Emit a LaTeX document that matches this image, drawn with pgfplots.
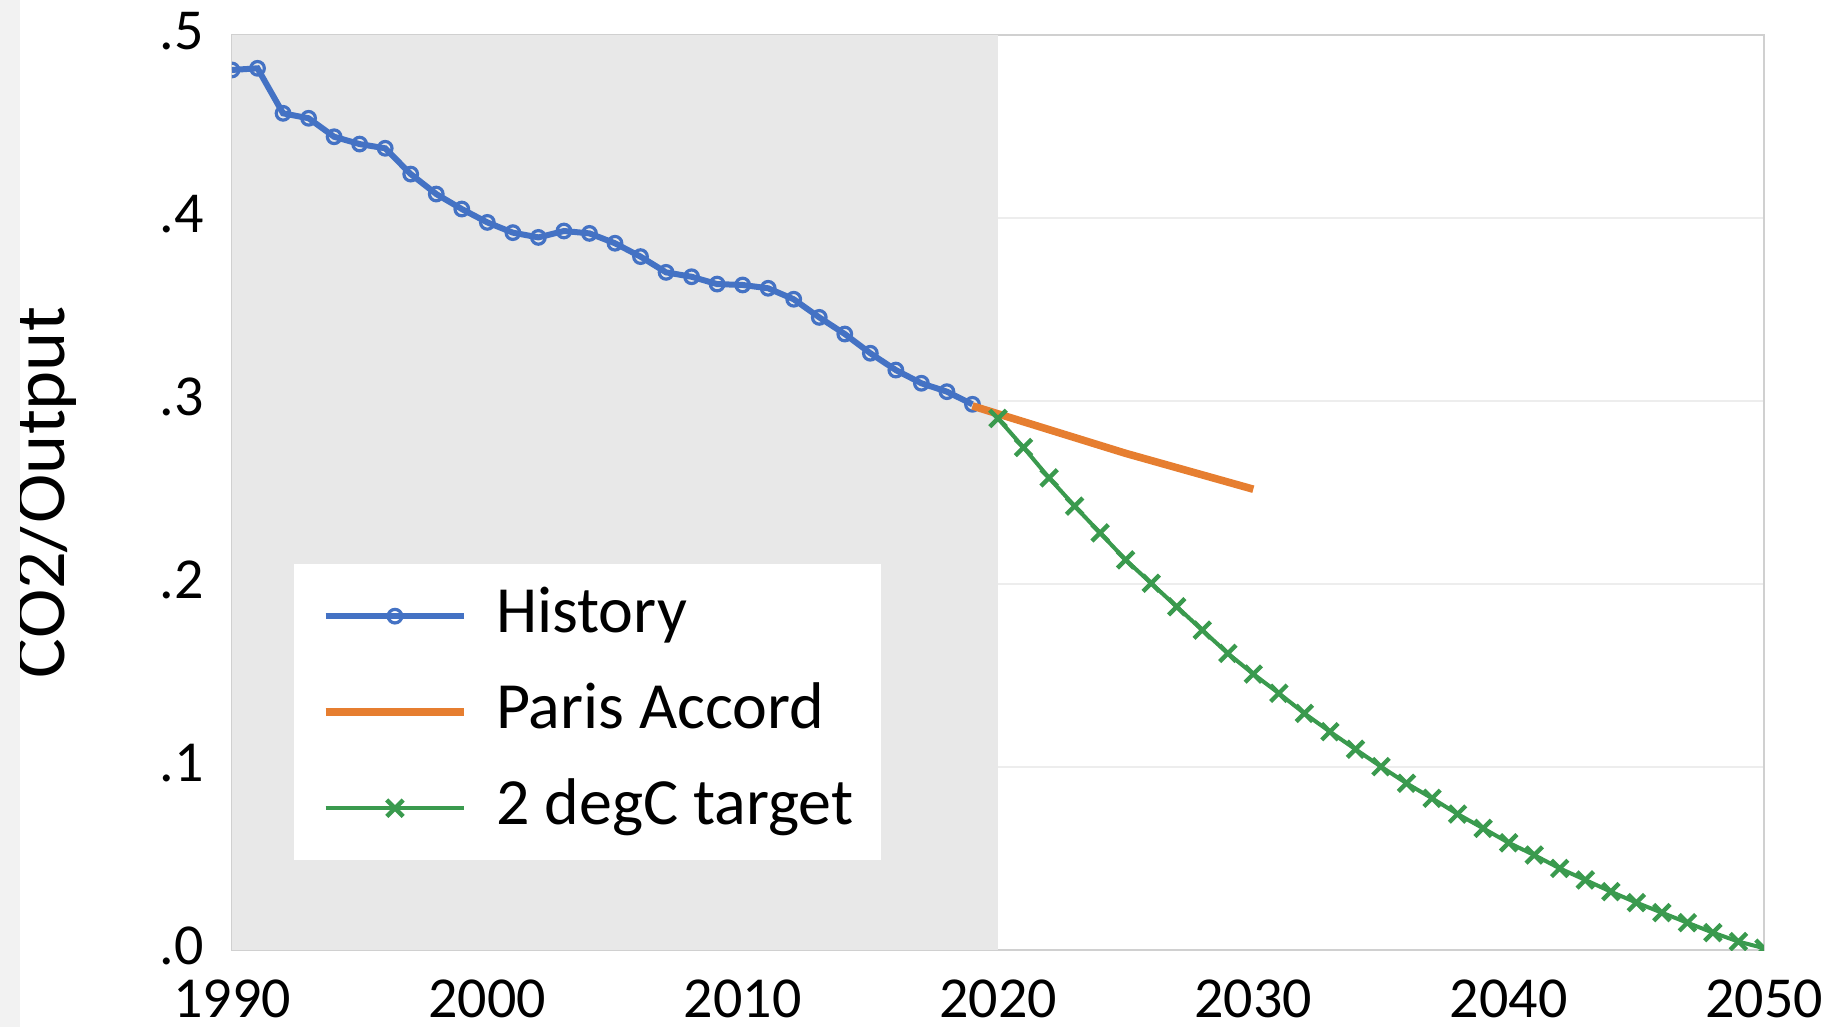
\documentclass[border=0pt]{standalone}
\usepackage{fontspec}
\setmainfont{Carlito}
\usepackage{pgfplots}
\pgfplotsset{compat=1.18}
\definecolor{histblue}{HTML}{4472C4}
\definecolor{parisorange}{HTML}{E67E30}
\definecolor{greenT}{HTML}{3A9A4E}
\definecolor{shadec}{HTML}{E8E8E8}
\definecolor{gridc}{HTML}{EDEDED}
\definecolor{framec}{HTML}{D0D0D0}
\definecolor{stripc}{HTML}{F2F2F2}
\begin{document}
\begin{tikzpicture}
\begin{axis}[
  scale only axis, width=383pt, height=228.75pt,
  at={(0,0)}, anchor=south west,
  xmin=1990, xmax=2050, ymin=0, ymax=0.5,
  xtick={1990,2000,2010,2020,2030,2040,2050},
  xticklabels={1990,2000,2010,2020,2030,2040,2050},
  ytick={0,0.1,0.2,0.3,0.4,0.5},
  yticklabels={.0,.1,.2,.3,.4,.5},
  major tick length=0pt,
  axis line style={framec, line width=0.6pt},
  ymajorgrids, grid style={gridc, line width=0.6pt},
  tick label style={font=\fontsize{14.5}{16}\selectfont, inner sep=1pt},
  /pgf/number format/assume math mode=true,
  xticklabel style={inner sep=0pt, yshift=-7.3pt},
  yticklabel style={xshift=-5.8pt, yshift=1pt},
  ylabel={CO2/Output},
  ylabel style={font=\fontsize{18.6}{20}\selectfont, at={(axis description cs:-0.1224,0.5)}, anchor=center},
  clip marker paths=true,
  legend cell align=left,
  legend image code/.code={\draw[mark repeat=2,mark phase=2,#1] plot coordinates {(0pt,0pt) (17.35pt,0pt) (34.7pt,0pt)};},
  legend style={at={(axis description cs:0.0398,0.0973)}, anchor=south west,
    fill=white, draw=none, font=\fontsize{16.5}{18}\selectfont,
    inner xsep=7pt, inner ysep=5pt, row sep=8pt, column sep=7pt,
    nodes={inner sep=0pt, text height=12pt, text depth=4pt}},
]
\addplot[draw=none, fill=shadec, forget plot] coordinates {(1990,0.5) (2020,0.5)} \closedcycle;

\addplot[histblue, line width=1.5pt, mark=o, mark size=1.7pt,
  mark options={fill=white, line width=0.8pt, solid}] coordinates {
(1990,0.4809) (1991,0.4818) (1992,0.4572) (1993,0.4545) (1994,0.4444)
(1995,0.4404) (1996,0.4381) (1997,0.4240) (1998,0.4131) (1999,0.4049)
(2000,0.3976) (2001,0.3920) (2002,0.3894) (2003,0.3929) (2004,0.3916)
(2005,0.3862) (2006,0.3789) (2007,0.3703) (2008,0.3679) (2009,0.3639)
(2010,0.3634) (2011,0.3616) (2012,0.3556) (2013,0.3457) (2014,0.3366)
(2015,0.3261) (2016,0.3169) (2017,0.3097) (2018,0.3051) (2019,0.2982)
};
\addlegendentry{History}

\addplot[parisorange, line width=1.9pt] coordinates {
(2019,0.2973) (2025,0.2714) (2030,0.2518)
};
\addlegendentry{Paris Accord}

\addplot[greenT, line width=1pt, mark=x, mark size=2.9pt,
  mark options={line width=1.1pt}] coordinates {
(2020,0.2905) (2021,0.2746) (2022,0.2580) (2023,0.2426) (2024,0.2279)
(2025,0.2132) (2026,0.2004) (2027,0.1876) (2028,0.1748) (2029,0.1621)
(2030,0.1508) (2031,0.1403) (2032,0.1293) (2033,0.1193) (2034,0.1097)
(2035,0.1002) (2036,0.0911) (2037,0.0829) (2038,0.0743) (2039,0.0665)
(2040,0.0586) (2041,0.0519) (2042,0.0446) (2043,0.0383) (2044,0.0319)
(2045,0.0259) (2046,0.0204) (2047,0.0149) (2048,0.0095) (2049,0.0046)
(2050,0.0010)
};
\addlegendentry{2 degC target}
\end{axis}
\fill[stripc] (-58pt,-19.25pt) rectangle (-53pt,237.5pt);
\pgfresetboundingbox
\path (-58pt,-19.25pt) rectangle (401.25pt,237.5pt);
\end{tikzpicture}
\end{document}
